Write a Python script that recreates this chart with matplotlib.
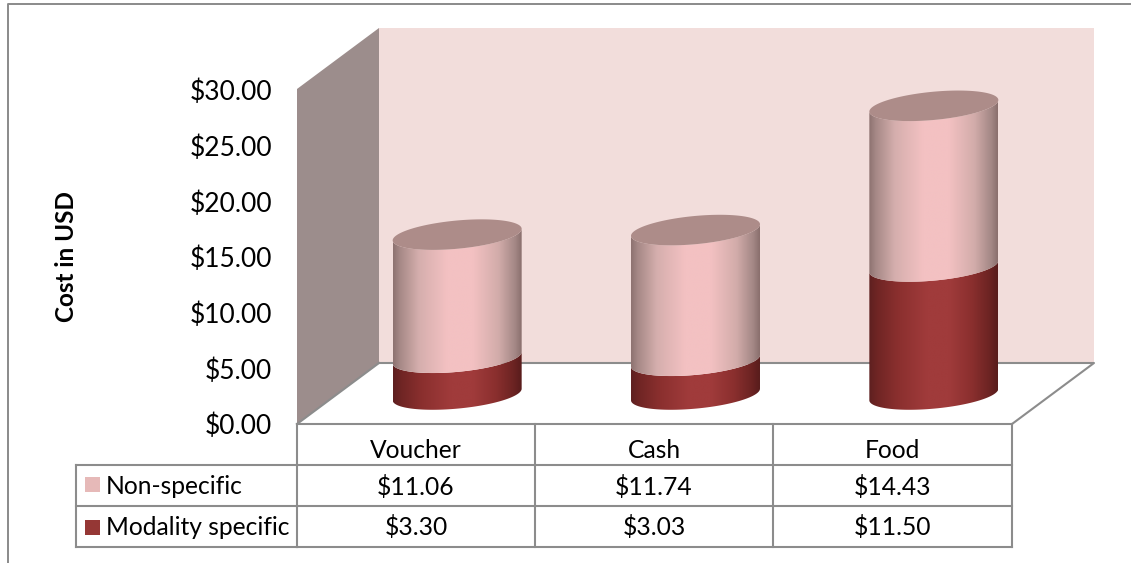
import numpy as np
import matplotlib
matplotlib.use("Agg")
import matplotlib.pyplot as plt
from matplotlib.colors import LinearSegmentedColormap
from matplotlib.patches import Polygon

plt.rcParams['font.family'] = ['Lato', 'DejaVu Sans']

categories = ['Voucher', 'Cash', 'Food']
non_specific = [11.06, 11.74, 14.43]
modality_specific = [3.30, 3.03, 11.50]
y_ticks = [0, 5, 10, 15, 20, 25, 30]

W, H = 1131, 563
fig = plt.figure(figsize=(W / 100, H / 100), dpi=100, facecolor='white')
GRID = '#8c8c8c'


def rect(l, t, r, b):
    return [l / W, 1 - b / H, (r - l) / W, (b - t) / H]


# pixel overlay for frame, walls and table
pg = fig.add_axes([0, 0, 1, 1], zorder=0)
pg.set_xlim(0, W)
pg.set_ylim(H, 0)
pg.axis('off')

pg.plot([8, 8, 1131], [563, 4, 4], color='#8a8a8a', lw=1.4)
pg.add_patch(Polygon([(297, 89), (379, 28), (379, 363), (297, 424)], fc='#9c8d8c', ec='none'))
pg.add_patch(Polygon([(379, 28), (1094, 28), (1094, 363), (379, 363)], fc='#f2dddb', ec='none'))
pg.plot([379, 1094, 1012], [363, 363, 424], color=GRID, lw=1.5)
pg.plot([297, 379], [424, 363], color=GRID, lw=1.5)

# table grid
xs = [297, 535, 773, 1012]
ys = [424, 465, 506, 547]
for y in ys:
    pg.plot([297, 1012], [y, y], color=GRID, lw=1.5)
for y in ys[1:]:
    pg.plot([76, 297], [y, y], color=GRID, lw=1.5)
for x in xs:
    pg.plot([x, x], [424, 547], color=GRID, lw=1.5)
pg.plot([76, 76], [465, 547], color=GRID, lw=1.5)

FS = 17.7
for i, c in enumerate(categories):
    xc = (xs[i] + xs[i + 1]) / 2
    pg.text(xc, 450.5, c, ha='center', va='center', fontsize=FS, color='black')
    pg.text(xc, 486.5, f'${non_specific[i]:.2f}', ha='center', va='center', fontsize=FS, color='black')
    pg.text(xc, 527.5, f'${modality_specific[i]:.2f}', ha='center', va='center', fontsize=FS, color='black')

pg.add_patch(plt.Rectangle((85, 477), 15, 15, fc='#e6b9b8', ec='none'))
pg.add_patch(plt.Rectangle((85, 520), 15, 15, fc='#953735', ec='none'))
pg.text(106, 486, 'Non-specific', ha='left', va='center', fontsize=FS, color='black')
pg.text(106, 527.5, 'Modality specific', ha='left', va='center', fontsize=FS, color='black')
pg.text(66, 257, 'Cost in USD', rotation=90, ha='center', va='center',
        fontsize=17.5, fontweight='bold', color='black')

# value axis on the left wall
av = fig.add_axes(rect(297, 90, 1012, 424), zorder=1, facecolor='none')
av.set_ylim(0, 30)
av.set_xlim(-0.5, 2.5)
av.set_xticks([])
av.set_yticks(y_ticks)
av.set_yticklabels([f'${v:.2f}' for v in y_ticks], fontsize=19)
av.tick_params(axis='y', length=0, pad=18)
for s in av.spines.values():
    s.set_visible(False)

# cylinders: same scale, pushed half the floor depth back
Y_LOW = -3
ax = fig.add_axes(rect(338, 60.5, 1053, 394.5 - Y_LOW * 334 / 30), zorder=2, facecolor='none')
ax.set_xlim(-0.5, 2.5)
ax.set_ylim(Y_LOW, 30)
ax.axis('off')

A = 0.2706   # half width, category units
TILT = 0.52  # USD, rise of the ellipse across the half width
B = 1.27     # USD, half minor extent


def edge(cx, cy, t):
    return cx + A * np.cos(t), cy + TILT * np.cos(t) + B * np.sin(t)


cm_pink = LinearSegmentedColormap.from_list('p', [
    (0, '#8d7270'), (0.05, '#a58886'), (0.2, '#d5aead'), (0.42, '#f3c1c2'),
    (0.62, '#f3c1c2'), (0.82, '#d2acaa'), (0.95, '#a38785'), (1, '#8a6f6d')])
cm_red = LinearSegmentedColormap.from_list('r', [
    (0, '#5e2020'), (0.06, '#6f2524'), (0.22, '#8a2f2e'), (0.45, '#a03b3b'),
    (0.62, '#a03b3b'), (0.8, '#8a2f2e'), (0.94, '#6b2322'), (1, '#581c1c')])
grad = np.linspace(0, 1, 256).reshape(1, -1)
tf = np.linspace(np.pi, 2 * np.pi, 120)
tall = np.linspace(0, 2 * np.pi, 240)


def segment(cx, y0, y1, cmap, z):
    xb, yb = edge(cx, y0, tf)
    xt, yt = edge(cx, y1, tf)
    poly = Polygon(np.r_[np.c_[xb, yb], np.c_[xt, yt][::-1]], closed=True, fc='none', ec='none',
                   transform=ax.transData)
    ax.add_patch(poly)
    lo, hi = min(yb.min(), yt.min()), max(yb.max(), yt.max())
    im = ax.imshow(grad, cmap=cmap, aspect='auto', extent=(cx - A, cx + A, lo, hi), zorder=z,
                   interpolation='bilinear')
    im.set_clip_path(poly)


for i in range(len(categories)):
    m, n = modality_specific[i], non_specific[i]
    segment(i, 0, m, cm_red, 3)
    segment(i, m, m + n, cm_pink, 4)
    xt, yt = edge(i, m + n, tall)
    ax.fill(xt, yt, fc='#ad8c89', ec='none', zorder=5)

ax.set_xlim(-0.5, 2.5)
ax.set_ylim(Y_LOW, 30)

fig.savefig('out.png', dpi=100, facecolor='white')
